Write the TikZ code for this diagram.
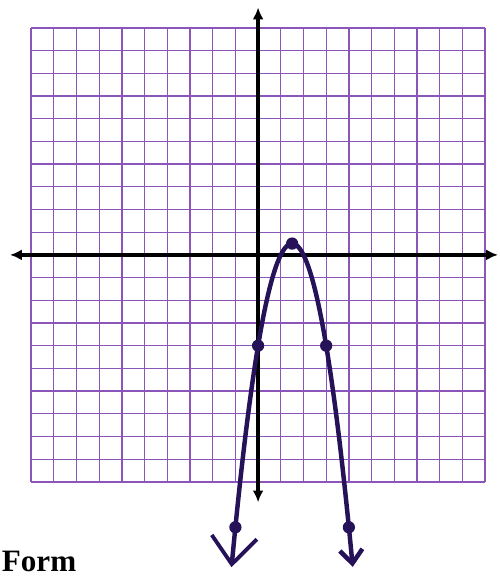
\documentclass[tikz,border=0pt]{standalone}
\usepackage{fontspec}
\setmainfont{Liberation Serif}
\usetikzlibrary{arrows.meta}
\definecolor{gridviolet}{RGB}{140,85,185}
\definecolor{penink}{RGB}{38,18,88}
\begin{document}
\begin{tikzpicture}[x=0.5cm,y=0.5cm,
  gridline/.style={gridviolet,line width=0.8pt},
  axisline/.style={black,line width=2.4pt,{Latex[length=2.6mm,width=2.4mm]}-{Latex[length=2.6mm,width=2.4mm]}},
  curveline/.style={penink,line width=2.8pt,line cap=round},
  ptdot/.style={fill=penink}]

\useasboundingbox (-11.37,-14.19) rectangle (10.62,11.23);

% Quadrillage
\foreach \k in {-10,...,10}
{
\draw[gridline] (\k,-10) -- (\k,10);
\draw[gridline] (-10,\k) -- (10,\k);
}

% Axes
\draw[axisline] (-10.93,0) -- (10.57,0);
\draw[axisline] (0,-10.9) -- (0,10.9);

% Parabole y=-2(x-1)(x-2)
\draw[curveline,
{Straight Barb[length=6mm,width=10mm,line width=2.4pt]}-{Straight Barb[length=3mm,width=5mm,line width=2.8pt]}]
plot[domain=-1.17:4.17,samples=80,smooth] (\x,{-2*(\x-1.5)*(\x-1.5)+0.5});

% Points
\foreach \x/\y in {
1.5/0.5,
0/-4,3/-4,
-1/-12,4/-12
}
{
\fill[ptdot] (\x,\y) circle (0.27);
}

\node[anchor=base west,inner sep=0pt,font=\fontsize{19.5}{20}\selectfont\bfseries]
at (-11.3,-13.93) {Form};

\end{tikzpicture}
\end{document}
